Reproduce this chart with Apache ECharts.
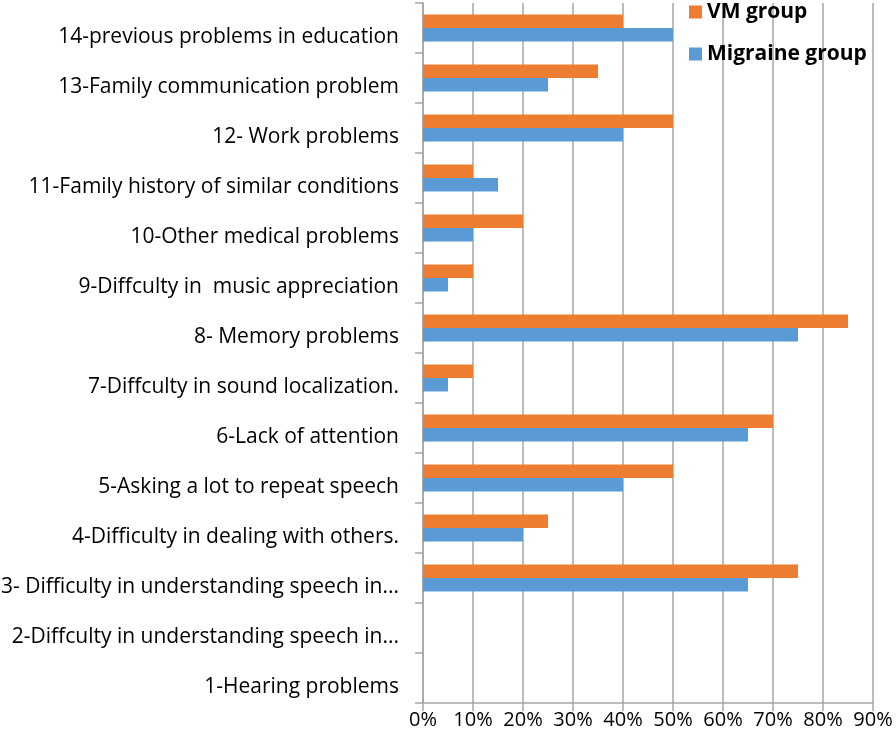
<!DOCTYPE html>
<html>
<head>
<meta charset="utf-8">
<script src="https://cdn.jsdelivr.net/npm/echarts@6/dist/echarts.min.js"></script>
<style>
  html, body { margin: 0; padding: 0; background: #fff; }
  #main { width: 896px; height: 743px; }
</style>
</head>
<body>
<div id="main"></div>
<script>
// categories, bottom to top
var categories = [
  '1-Hearing problems',
  '2-Diffculty in understanding speech in...',
  '3- Difficulty in understanding speech in...',
  '4-Difficulty in dealing with others.',
  '5-Asking a lot to repeat speech',
  '6-Lack of attention',
  '7-Diffculty in sound localization.',
  '8- Memory problems',
  '9-Diffculty in  music appreciation',
  '10-Other medical problems',
  '11-Family history of similar conditions',
  '12- Work problems',
  '13-Family communication problem',
  '14-previous problems in education'
];
var vmGroup = [0, 0, 75, 25, 50, 70, 10, 85, 10, 20, 10, 50, 35, 40];
var migraineGroup = [0, 0, 65, 20, 40, 65, 5, 75, 5, 10, 15, 40, 25, 50];
var xTicks = [0, 10, 20, 30, 40, 50, 60, 70, 80, 90];

var gray = '#a6a6a6';
var font = 'Open Sans';

var myChart = echarts.init(document.getElementById('main'));
myChart.setOption({
  animation: false,
  grid: {
    left: 423,
    right: 23,
    top: 3,
    bottom: 40,
    containLabel: false,
    outerBoundsMode: 'none'
  },
  legend: {
    data: ['VM group', 'Migraine group'],
    orient: 'vertical',
    left: 684,
    top: -5,
    itemWidth: 13,
    itemHeight: 13,
    itemGap: 18,
    icon: 'rect',
    textStyle: {
      fontFamily: font,
      fontWeight: 'bold',
      fontSize: 21,
      color: '#000',
      lineHeight: 24
    }
  },
  xAxis: {
    type: 'value',
    min: xTicks[0],
    max: xTicks[xTicks.length - 1],
    interval: 10,
    axisLine: { show: true, lineStyle: { color: gray, width: 1.5 } },
    axisTick: { show: true, length: 8, lineStyle: { color: gray, width: 1.5 } },
    splitLine: { show: true, lineStyle: { color: gray, width: 1.5 } },
    axisLabel: {
      formatter: '{value}%',
      fontFamily: font,
      fontSize: 20,
      color: '#000',
      margin: 7
    }
  },
  yAxis: {
    type: 'category',
    data: categories,
    axisLine: { show: true, lineStyle: { color: gray, width: 1.5 } },
    axisTick: { show: true, length: 8, inside: false, lineStyle: { color: gray, width: 1.5 } },
    splitLine: { show: false },
    axisLabel: {
      fontFamily: font,
      fontSize: 21,
      color: '#000',
      margin: 24,
      verticalAlign: 'top',
      lineHeight: 18
    }
  },
  series: [
    {
      name: 'VM group',
      type: 'bar',
      data: vmGroup,
      barWidth: 13.5,
      barGap: '0%',
      itemStyle: { color: '#ed7d31' }
    },
    {
      name: 'Migraine group',
      type: 'bar',
      data: migraineGroup,
      barWidth: 13.5,
      barGap: '0%',
      itemStyle: { color: '#5b9bd5' }
    }
  ]
});
</script>
</body>
</html>
